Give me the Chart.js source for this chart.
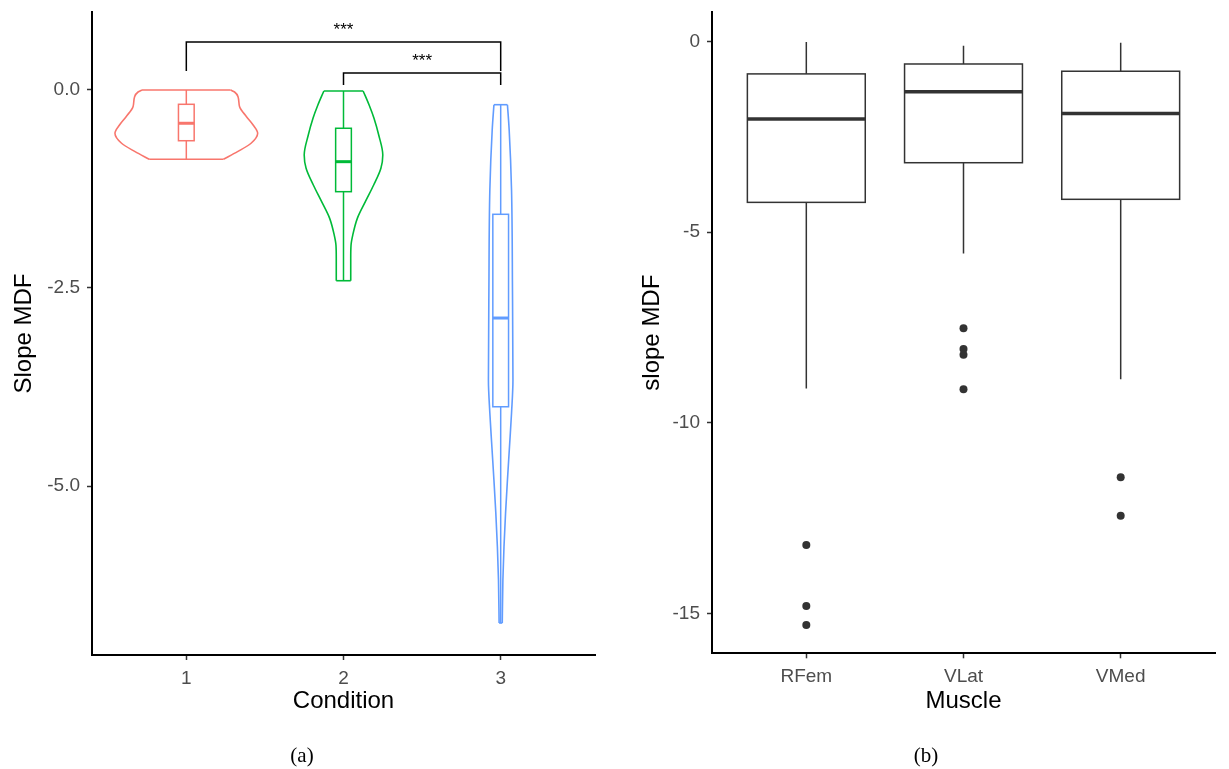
<!DOCTYPE html>
<html>
<head>
<meta charset="utf-8">
<title>Slope MDF</title>
<script src="https://cdn.jsdelivr.net/npm/chart.js@4.4.0/dist/chart.umd.min.js"></script>
<style>
    body { margin: 0; background: #fff; width: 1229px; height: 769px; position: relative; overflow: hidden; }
    canvas { position: absolute; top: 0; }
    #chartA { left: 0; }
    #chartB { left: 614px; }
    .caption {
        position: absolute; top: 755px;
        transform: translate(-50%, -50%);
        font-family: 'Liberation Serif', 'DejaVu Serif', serif;
        font-size: 21px; color: #000;
    }
</style>
</head>
<body>
<canvas id="chartA" width="614" height="769"></canvas>
<canvas id="chartB" width="615" height="769"></canvas>
<div class="caption" style="left:302px">(a)</div>
<div class="caption" style="left:926px">(b)</div>

<script>
// ---- Panel (a): slope MDF by condition ----
const conditions = ['1', '2', '3'];
const conditionColors = ['#F8766D', '#00BA38', '#619CFF'];
const condTicks = [-5, -2.5, 0];
const condTickLabels = ['-5.0', '-2.5', '0.0'];

// violin outlines, bottom to top: value and half width (category units)
const violin1Values = [-0.882, -0.786, -0.680, -0.554, -0.450, -0.345, -0.219, -0.093, -0.034, -0.009];
const violin1Widths = [0.236, 0.326, 0.412, 0.454, 0.425, 0.383, 0.339, 0.329, 0.307, 0.282];
const violin2Values = [-2.412, -2.130, -1.962, -1.836, -1.626, -1.416, -1.206, -0.995, -0.828, -0.576, -0.365, -0.198, -0.021];
const violin2Widths = [0.046, 0.046, 0.048, 0.059, 0.088, 0.139, 0.192, 0.238, 0.250, 0.224, 0.194, 0.163, 0.125];
const violin3Values = [-6.725, -6.184, -5.764, -5.339, -4.923, -4.504, -4.079, -3.663, -2.529, -1.269, -0.513, -0.194];
const violin3Widths = [0.010, 0.014, 0.021, 0.031, 0.043, 0.056, 0.069, 0.078, 0.075, 0.069, 0.054, 0.043];

// box stats per condition
const condLow = [-0.882, -2.412, -6.725];
const condQ1 = [-0.648, -1.290, -4.000];
const condMedian = [-0.428, -0.912, -2.882];
const condQ3 = [-0.189, -0.491, -1.575];
const condHigh = [-0.009, -0.021, -0.194];

// significance brackets
const bracketFrom = [1, 2];
const bracketTo = [3, 3];
const bracketY = [0.596, 0.205];
const bracketTip = [0.231, 0.054];
const bracketLabels = ['***', '***'];

// ---- Panel (b): slope MDF by muscle ----
const muscles = ['RFem', 'VLat', 'VMed'];
const muscleTicks = [-15, -10, -5, 0];
const muscleLow = [-9.10, -5.56, -8.86];
const muscleQ1 = [-4.22, -3.18, -4.14];
const muscleMedian = [-2.03, -1.32, -1.89];
const muscleQ3 = [-0.85, -0.59, -0.78];
const muscleHigh = [-0.01, -0.11, -0.03];
const rfemOutliers = [-13.21, -14.81, -15.31];
const vlatOutliers = [-7.52, -8.07, -8.22, -9.12];
const vmedOutliers = [-11.43, -12.44];

const sansFamily = '"Liberation Sans", Arial, Helvetica, sans-serif';
const tickFont = { family: sansFamily, size: 19 };
const titleFont = { family: sansFamily, size: 24 };

// one violin = right side, left side, flat top and bottom edges
function violinDatasets(center, values, widths, color) {
    const right = values.map((v, i) => ({ x: center + widths[i], y: v }));
    const left = values.map((v, i) => ({ x: center - widths[i], y: v }));
    const last = values.length - 1;
    const base = {
        borderColor: color, borderWidth: 1.6, pointRadius: 0, fill: false,
        indexAxis: 'y', xAxisID: 'x', yAxisID: 'y'
    };
    const curved = { ...base, cubicInterpolationMode: 'monotone' };
    const straight = { ...base, tension: 0 };
    return [
        { ...curved, data: right },
        { ...curved, data: left },
        { ...straight, data: [left[0], right[0]] },
        { ...straight, data: [left[last], right[last]] }
    ];
}

function makeBoxPlugin(stats) {
    return {
        id: 'boxes',
        afterDatasetsDraw(chart) {
            const ctx = chart.ctx;
            const xs = chart.scales.x;
            const ys = chart.scales.y;
            ctx.save();
            stats.low.forEach((low, i) => {
                const cx = xs.getPixelForValue(i + 1);
                const half = xs.getPixelForValue(i + 1 + stats.halfWidth) - cx;
                const yLow = ys.getPixelForValue(low);
                const yQ1 = ys.getPixelForValue(stats.q1[i]);
                const yMed = ys.getPixelForValue(stats.median[i]);
                const yQ3 = ys.getPixelForValue(stats.q3[i]);
                const yHigh = ys.getPixelForValue(stats.high[i]);
                ctx.strokeStyle = stats.colors[i];
                ctx.lineWidth = stats.lineWidth;
                // whiskers
                ctx.beginPath();
                ctx.moveTo(cx, yQ1); ctx.lineTo(cx, yLow);
                ctx.moveTo(cx, yQ3); ctx.lineTo(cx, yHigh);
                ctx.stroke();
                // box
                ctx.fillStyle = '#ffffff';
                ctx.fillRect(cx - half, yQ3, half * 2, yQ1 - yQ3);
                ctx.strokeRect(cx - half, yQ3, half * 2, yQ1 - yQ3);
                // median
                ctx.lineWidth = stats.medianWidth;
                ctx.beginPath();
                ctx.moveTo(cx - half, yMed); ctx.lineTo(cx + half, yMed);
                ctx.stroke();
            });
            ctx.restore();
        }
    };
}

const bracketPlugin = {
    id: 'brackets',
    afterDatasetsDraw(chart) {
        const { ctx, scales: { x, y } } = chart;
        ctx.save();
        ctx.strokeStyle = '#000';
        ctx.lineWidth = 1.5;
        ctx.fillStyle = '#000';
        ctx.font = '17px ' + sansFamily;
        ctx.textAlign = 'center';
        ctx.textBaseline = 'alphabetic';
        bracketFrom.forEach((from, i) => {
            const x0 = x.getPixelForValue(from);
            const x1 = x.getPixelForValue(bracketTo[i]);
            const yTop = y.getPixelForValue(bracketY[i]);
            const yTip = y.getPixelForValue(bracketTip[i]);
            ctx.beginPath();
            ctx.moveTo(x0, yTip);
            ctx.lineTo(x0, yTop);
            ctx.lineTo(x1, yTop);
            ctx.lineTo(x1, yTip);
            ctx.stroke();
            ctx.fillText(bracketLabels[i], (x0 + x1) / 2, yTop - 7);
        });
        ctx.restore();
    }
};

function axisStyle(titleText, labelFn, tickValues, fixSize) {
    return {
        type: 'linear',
        bounds: 'data',
        afterBuildTicks: s => { s.ticks = tickValues.map(v => ({ value: v })); },
        afterFit: s => {
            fixSize(s);
            // labels never reach the panel edges, so no extra room is needed
            s.paddingTop = 0;
            s.paddingBottom = 0;
            s.paddingLeft = 0;
            s.paddingRight = 0;
        },
        ticks: {
            callback: labelFn, color: '#4d4d4d', font: tickFont,
            padding: 7, maxRotation: 0, autoSkip: false
        },
        grid: {
            drawOnChartArea: false, drawTicks: true, tickLength: 5,
            tickColor: '#333333', tickWidth: 1.5
        },
        border: { display: true, color: '#000', width: 2 },
        title: { display: true, text: titleText, font: titleFont, color: '#000', padding: 0 }
    };
}

function createConditionChart() {
    const datasets = [
        ...violinDatasets(1, violin1Values, violin1Widths, conditionColors[0]),
        ...violinDatasets(2, violin2Values, violin2Widths, conditionColors[1]),
        ...violinDatasets(3, violin3Values, violin3Widths, conditionColors[2])
    ];
    const xAxis = axisStyle('Condition', v => conditions[v - 1], [1, 2, 3], s => { s.height = 60.4; });
    xAxis.min = 0.4;
    xAxis.max = 3.6;
    const yAxis = axisStyle('Slope MDF', (v, i) => condTickLabels[i], condTicks, s => { s.width = 82.4; });
    yAxis.min = -7.128;
    yAxis.max = 0.974;

    new Chart(document.getElementById('chartA'), {
        type: 'line',
        data: { datasets },
        options: {
            responsive: false,
            animation: false,
            layout: { padding: { left: 9.6, top: 12, right: 19, bottom: 53.6 } },
            plugins: { legend: { display: false }, tooltip: { enabled: false } },
            scales: { x: xAxis, y: yAxis }
        },
        plugins: [
            makeBoxPlugin({
                low: condLow, q1: condQ1, median: condMedian, q3: condQ3, high: condHigh,
                colors: conditionColors, halfWidth: 0.05, lineWidth: 1.5, medianWidth: 3
            }),
            bracketPlugin
        ]
    });
}

function createMuscleChart() {
    const outlierSets = [rfemOutliers, vlatOutliers, vmedOutliers];
    const outlierPoints = [];
    outlierSets.forEach((list, i) => list.forEach(v => outlierPoints.push({ x: i + 1, y: v })));

    const xAxis = axisStyle('Muscle', v => muscles[v - 1], [1, 2, 3], s => { s.height = 62.1; });
    xAxis.min = 0.4;
    xAxis.max = 3.6;
    const yAxis = axisStyle('slope MDF', v => String(v), muscleTicks, s => { s.width = 74.4; });
    yAxis.min = -16.05;
    yAxis.max = 0.774;

    new Chart(document.getElementById('chartB'), {
        type: 'line',
        data: {
            datasets: [{
                data: outlierPoints,
                showLine: false,
                pointRadius: 4,
                pointBackgroundColor: '#333333',
                pointBorderWidth: 0
            }]
        },
        options: {
            responsive: false,
            animation: false,
            layout: { padding: { left: 23.6, top: 12, right: 14, bottom: 53.6 } },
            plugins: { legend: { display: false }, tooltip: { enabled: false } },
            scales: { x: xAxis, y: yAxis }
        },
        plugins: [
            makeBoxPlugin({
                low: muscleLow, q1: muscleQ1, median: muscleMedian, q3: muscleQ3, high: muscleHigh,
                colors: ['#333333', '#333333', '#333333'], halfWidth: 0.375, lineWidth: 1.5, medianWidth: 3.5
            })
        ]
    });
}

document.addEventListener('DOMContentLoaded', function() {
    createConditionChart();
    createMuscleChart();
});
</script>
</body>
</html>
